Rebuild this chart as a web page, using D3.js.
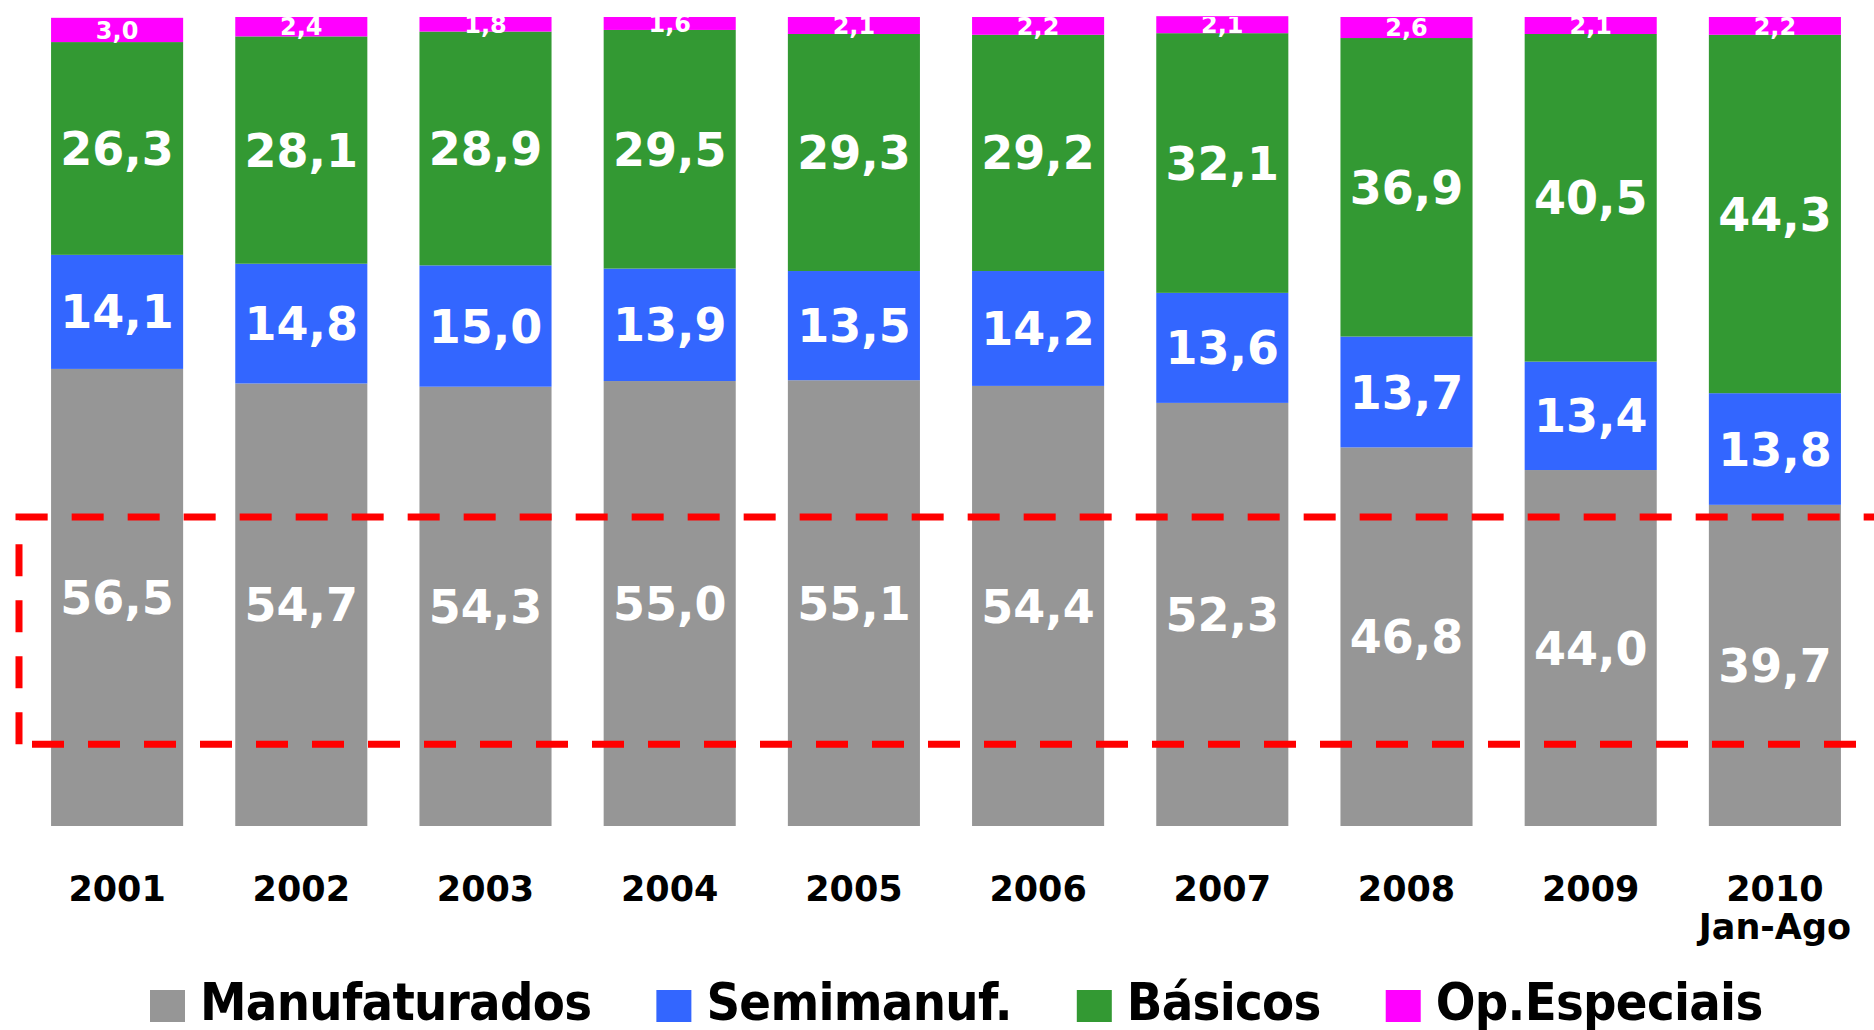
<!DOCTYPE html>
<html>
<head>
<meta charset="utf-8">
<script src="https://cdn.jsdelivr.net/npm/d3@7"></script>
<style>
    body { margin: 0; background: #fff; }
    svg { display: block; }
</style>
</head>
<body>
<div id="chart"></div>
<script>
'use strict';

// Data (shares in %, values shown with decimal comma)
const years = ["2001", "2002", "2003", "2004", "2005", "2006", "2007", "2008", "2009", "2010"];
const yearSubLabels = ["", "", "", "", "", "", "", "", "", "Jan-Ago"];
const seriesNames = ["Manufaturados", "Semimanuf.", "Básicos", "Op.Especiais"];
const manufaturados = [56.5, 54.7, 54.3, 55.0, 55.1, 54.4, 52.3, 46.8, 44.0, 39.7];
const semimanuf = [14.1, 14.8, 15.0, 13.9, 13.5, 14.2, 13.6, 13.7, 13.4, 13.8];
const basicos = [26.3, 28.1, 28.9, 29.5, 29.3, 29.2, 32.1, 36.9, 40.5, 44.3];
const opEspeciais = [3.0, 2.4, 1.8, 1.6, 2.1, 2.2, 2.1, 2.6, 2.1, 2.2];
// Highlighted band (value range on the y scale)
const highlightRange = [10.1, 38.2];

const colors = ["#969696", "#3366ff", "#339933", "#ff00ff"];

const width = 1874, height = 1030;
const plotTop = 17, plotBottom = 826;

const fmt = v => v.toFixed(1).replace(".", ",");

const drawChart = () => {
    const table = years.map((y, i) => ({
        year: y,
        "Manufaturados": manufaturados[i],
        "Semimanuf.": semimanuf[i],
        "Básicos": basicos[i],
        "Op.Especiais": opEspeciais[i]
    }));

    const stacked = d3.stack().keys(seriesNames)(table);

    const svg = d3.select("#chart")
        .append("svg")
        .attr("width", width)
        .attr("height", height)
        .style("font-family", "'DejaVu Sans', Verdana, sans-serif")
        .style("font-weight", "bold");

    const x = d3.scaleBand()
        .domain(years)
        .range([25, 1867])
        .paddingInner(0.283)
        .paddingOuter(0.1415);

    const y = d3.scaleLinear()
        .domain([0, 100])
        .range([plotBottom, plotTop]);

    svg.append("clipPath")
        .attr("id", "plotClip")
        .append("rect")
        .attr("x", 0)
        .attr("y", plotTop)
        .attr("width", width)
        .attr("height", plotBottom - plotTop + 20);

    // stacked bars
    const layers = svg.append("g")
        .selectAll("g")
        .data(stacked)
        .join("g")
        .attr("fill", (d, i) => colors[i]);

    layers.selectAll("rect")
        .data(d => d)
        .join("rect")
        .attr("x", d => x(d.data.year))
        .attr("y", d => y(d[1]))
        .attr("width", x.bandwidth())
        .attr("height", d => y(d[0]) - y(d[1]));

    // value labels
    const labels = svg.append("g").attr("clip-path", "url(#plotClip)");
    stacked.forEach((layer, li) => {
        labels.selectAll(null)
            .data(layer)
            .join("text")
            .attr("x", d => x(d.data.year) + x.bandwidth() / 2)
            .attr("y", d => (y(d[0]) + y(d[1])) / 2)
            .attr("dy", "0.36em")
            .attr("text-anchor", "middle")
            .attr("fill", "#fff")
            .style("font-size", li === 3 ? "24px" : "46px")
            .text(d => fmt(d[1] - d[0]));
    });

    // dashed highlight box
    const hl = svg.append("g")
        .attr("fill", "none")
        .attr("stroke", "#ff0000")
        .attr("stroke-width", 7)
        .attr("stroke-dasharray", "32,24");

    hl.append("path")
        .attr("d", d3.line()([[19, y(highlightRange[0])], [19, y(highlightRange[1])], [width + 10, y(highlightRange[1])]]));

    hl.append("line")
        .attr("x1", 32)
        .attr("x2", 1856)
        .attr("y1", y(highlightRange[0]))
        .attr("y2", y(highlightRange[0]));

    // category labels
    const xAxis = svg.append("g")
        .attr("transform", "translate(0," + plotBottom + ")")
        .call(d3.axisBottom(x).tickSize(0).tickPadding(0));
    xAxis.select(".domain").remove();
    xAxis.selectAll(".tick text").remove();

    xAxis.selectAll(".tick")
        .append("text")
        .attr("y", 75)
        .attr("fill", "#000")
        .attr("text-anchor", "middle")
        .style("font-size", "35px")
        .style("font-family", "'DejaVu Sans', Verdana, sans-serif")
        .style("font-weight", "bold")
        .text(d => d);

    xAxis.selectAll(".tick")
        .append("text")
        .attr("y", 113)
        .attr("fill", "#000")
        .attr("text-anchor", "middle")
        .style("font-size", "35px")
        .style("font-family", "'DejaVu Sans', Verdana, sans-serif")
        .style("font-weight", "bold")
        .text((d, i) => yearSubLabels[i]);

    // legend
    const legend = svg.append("g")
        .style("font-family", "'DejaVu Sans Condensed', 'DejaVu Sans', sans-serif")
        .style("font-weight", "bold");

    let cursor = 150;
    seriesNames.forEach((name, i) => {
        legend.append("rect")
            .attr("x", cursor)
            .attr("y", 990)
            .attr("width", 35)
            .attr("height", 32)
            .attr("fill", colors[i]);
        const t = legend.append("text")
            .attr("x", cursor + 50)
            .attr("y", 1020)
            .style("font-size", "52px")
            .style("letter-spacing", "-0.7px")
            .attr("fill", "#000")
            .text(name);
        cursor += 50 + t.node().getComputedTextLength() + 65;
    });
}

drawChart();
</script>
</body>
</html>
